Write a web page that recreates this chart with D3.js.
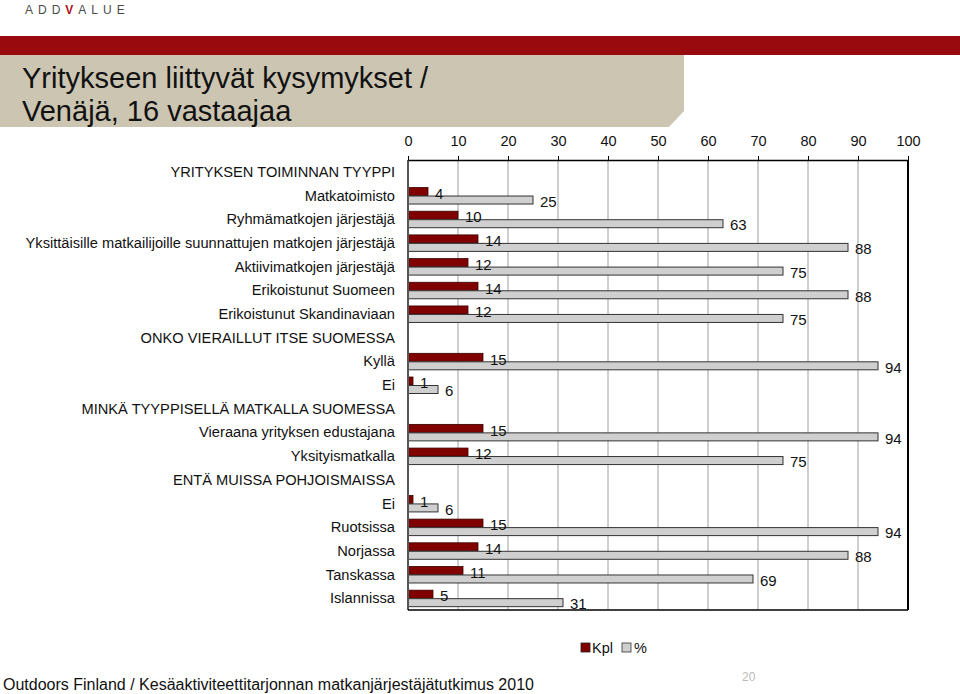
<!DOCTYPE html>
<html>
<head>
<meta charset="utf-8">
<script src="https://cdn.jsdelivr.net/npm/d3@7/dist/d3.min.js"></script>
<style>
  html, body { margin: 0; padding: 0; background: #fff; }
  svg { display: block; font-family: "Liberation Sans", Arial, sans-serif; }
</style>
</head>
<body>
<svg id="chart" width="960" height="694"></svg>
<script>
const categories = [
  "YRITYKSEN TOIMINNAN TYYPPI",
  "Matkatoimisto",
  "Ryhmämatkojen järjestäjä",
  "Yksittäisille matkailijoille suunnattujen matkojen järjestäjä",
  "Aktiivimatkojen järjestäjä",
  "Erikoistunut Suomeen",
  "Erikoistunut Skandinaviaan",
  "ONKO VIERAILLUT ITSE SUOMESSA",
  "Kyllä",
  "Ei",
  "MINKÄ TYYPPISELLÄ MATKALLA SUOMESSA",
  "Vieraana yrityksen edustajana",
  "Yksityismatkalla",
  "ENTÄ MUISSA POHJOISMAISSA",
  "Ei",
  "Ruotsissa",
  "Norjassa",
  "Tanskassa",
  "Islannissa"
];
const kpl = [null, 4, 10, 14, 12, 14, 12, null, 15, 1, null, 15, 12, null, 1, 15, 14, 11, 5];
const pct = [null, 25, 63, 88, 75, 88, 75, null, 94, 6, null, 94, 75, null, 6, 94, 88, 69, 31];
const tickValues = [0, 10, 20, 30, 40, 50, 60, 70, 80, 90, 100];
const seriesNames = ["Kpl", "%"];

(function () {
const svg = d3.select("#chart");
const RED = "#800000", GRAY = "#cfcfcf";

// Header
const logo = svg.append("text").attr("x", 25).attr("y", 13.5)
  .attr("font-size", 12).attr("letter-spacing", 5).attr("fill", "#4a4a4a");
logo.append("tspan").text("ADD");
logo.append("tspan").attr("fill", "#b0101a").attr("font-weight", "bold").text("V");
logo.append("tspan").text("ALUE");

svg.append("rect").attr("x", 0).attr("y", 36).attr("width", 960).attr("height", 19).attr("fill", "#980a0e");
svg.append("path").attr("d", "M0,55 L684,55 L684,111 L669,127 L0,127 Z").attr("fill", "#cbc5b2");
svg.append("text").attr("x", 22).attr("y", 88).attr("font-size", 29).attr("fill", "#111")
  .text("Yritykseen liittyvät kysymykset /");
svg.append("text").attr("x", 22).attr("y", 121).attr("font-size", 29).attr("fill", "#111")
  .text("Venäjä, 16 vastaajaa");

// Scales
const x = d3.scaleLinear().domain([0, 100]).range([408, 908]);
const y = d3.scaleBand().domain(d3.range(categories.length)).range([160, 610]).padding(0);
const yTop = 160, yBot = 610;

// Gridlines
svg.append("g").selectAll("line").data(tickValues.filter(t => t > 0 && t < 100)).join("line")
  .attr("x1", d => x(d)).attr("x2", d => x(d)).attr("y1", yTop).attr("y2", yBot)
  .attr("stroke", "#a0a0a0").attr("stroke-width", 1);

// Bars
const rows = categories.map((c, i) => ({ i, c, k: kpl[i], p: pct[i] }));
const bh = 8;
const g = svg.append("g");
rows.filter(r => r.k != null).forEach(r => {
  const cy = y(r.i) + y.bandwidth() / 2;
  g.append("rect").attr("x", x(0)).attr("y", cy - bh).attr("width", x(r.k) - x(0)).attr("height", bh)
    .attr("fill", RED).attr("stroke", "#3a0000").attr("stroke-width", 0.8);
  g.append("rect").attr("x", x(0)).attr("y", cy + 0.5).attr("width", x(r.p) - x(0)).attr("height", bh)
    .attr("fill", GRAY).attr("stroke", "#333").attr("stroke-width", 1);
  g.append("text").attr("x", x(r.k) + 7).attr("y", cy - bh / 2 + 2).attr("dy", "0.35em")
    .attr("font-size", 15).attr("fill", "#111").text(r.k);
  g.append("text").attr("x", x(r.p) + 7).attr("y", cy + 0.5 + bh / 2 + 1.5).attr("dy", "0.35em")
    .attr("font-size", 15).attr("fill", "#111").text(r.p);
});

// Frame
svg.append("line").attr("x1", x(100)).attr("x2", x(100)).attr("y1", yTop).attr("y2", yBot)
  .attr("stroke", "#000").attr("stroke-width", 2);
svg.append("line").attr("x1", x(0)).attr("x2", x(0)).attr("y1", yTop).attr("y2", yBot)
  .attr("stroke", "#555").attr("stroke-width", 2);
svg.append("line").attr("x1", x(0)).attr("x2", x(100)).attr("y1", yBot).attr("y2", yBot)
  .attr("stroke", "#000").attr("stroke-width", 1.5);

// Top axis
const axis = svg.append("g").attr("transform", `translate(0,${yTop})`)
  .call(d3.axisTop(x).tickValues(tickValues).tickSize(4).tickPadding(10).tickSizeOuter(0));
axis.select(".domain").attr("stroke", "#000").attr("stroke-width", 1.5);
axis.selectAll(".tick line").attr("stroke", "#000");
axis.selectAll(".tick text").attr("font-size", 14.5).attr("fill", "#111")
  .attr("font-family", "Liberation Sans, Arial, sans-serif");

// Category labels
svg.append("g").selectAll("text").data(rows).join("text")
  .attr("x", 395).attr("y", d => y(d.i) + y.bandwidth() / 2).attr("dy", "0.35em")
  .attr("text-anchor", "end").attr("font-size", 14.65).attr("fill", "#111").text(d => d.c);

// Legend
const leg = svg.append("g");
leg.append("rect").attr("x", 581).attr("y", 643).attr("width", 9).attr("height", 9)
  .attr("fill", RED).attr("stroke", "#222").attr("stroke-width", 0.8);
leg.append("text").attr("x", 592).attr("y", 648).attr("dy", "0.35em").attr("font-size", 14.5).attr("fill", "#111").text(seriesNames[0]);
leg.append("rect").attr("x", 622).attr("y", 643).attr("width", 9).attr("height", 9)
  .attr("fill", GRAY).attr("stroke", "#333").attr("stroke-width", 0.8);
leg.append("text").attr("x", 634).attr("y", 648).attr("dy", "0.35em").attr("font-size", 14.5).attr("fill", "#111").text(seriesNames[1]);

// Footer
svg.append("text").attr("x", 3).attr("y", 690).attr("font-size", 16).attr("fill", "#111")
  .text("Outdoors Finland / Kesäaktiviteettitarjonnan matkanjärjestäjätutkimus 2010");
svg.append("text").attr("x", 742).attr("y", 681).attr("font-size", 12).attr("fill", "#bbb").text("20");
})();
</script>
</body>
</html>
